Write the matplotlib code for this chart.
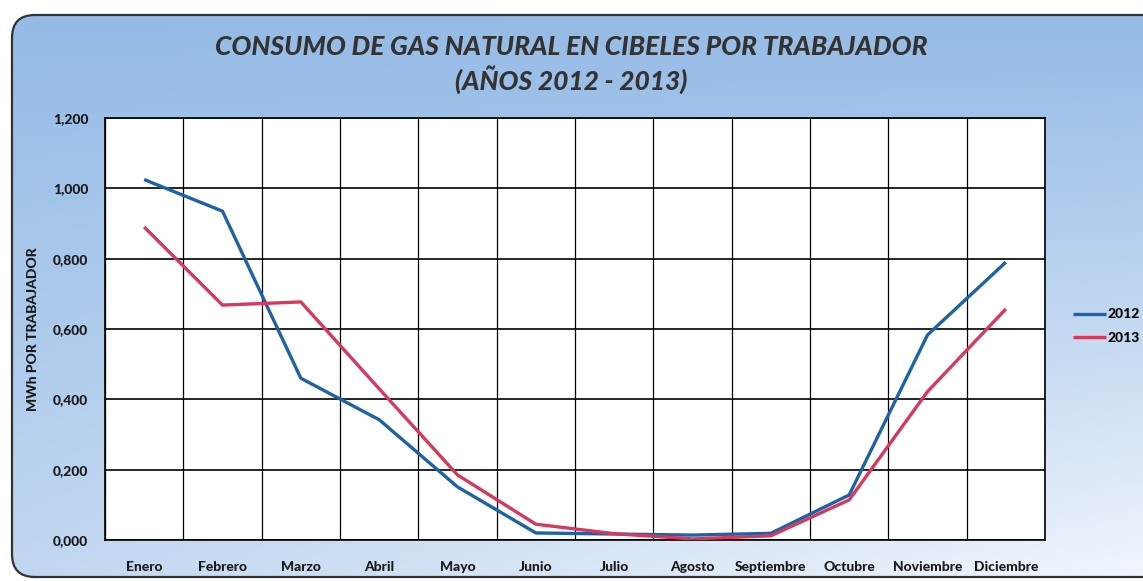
import numpy as np
import matplotlib.pyplot as plt
from matplotlib.patches import FancyBboxPatch
from matplotlib.ticker import FuncFormatter

plt.rcParams["font.family"] = ["Lato", "DejaVu Sans"]

# Data
months = ["Enero", "Febrero", "Marzo", "Abril", "Mayo", "Junio", "Julio",
          "Agosto", "Septiembre", "Octubre", "Noviembre", "Diciembre"]
consumo_2012 = [1.025, 0.935, 0.460, 0.342, 0.151, 0.020, 0.017,
                0.014, 0.019, 0.128, 0.583, 0.790]
consumo_2013 = [0.890, 0.668, 0.677, 0.430, 0.185, 0.045, 0.018,
                0.003, 0.012, 0.114, 0.422, 0.657]
y_ticks = [0.0, 0.2, 0.4, 0.6, 0.8, 1.0, 1.2]

BLUE = "#1d62a6"
RED = "#d8385c"
TXT = "#1a1a1a"

fig = plt.figure(figsize=(11.43, 5.81), dpi=100)

# Background panel with blue gradient and rounded border
bg = fig.add_axes([0, 0, 1, 1], zorder=-10)
bg.set_xlim(0, 1)
bg.set_ylim(0, 1)
bg.axis("off")
gx, gy = np.meshgrid(np.linspace(0, 1, 300), np.linspace(0, 1, 200))
t = np.clip(0.45 * (1 - gy) + 0.5 * gx * (1 - gy) ** 1.3, 0, 1)
top = np.array([0.58, 0.73, 0.90])
low = np.array([0.97, 0.98, 1.0])
img = top[None, None, :] * (1 - t[..., None]) + low[None, None, :] * t[..., None]
im = bg.imshow(img, extent=[0, 1, 0, 1], origin="lower", aspect="auto")
panel = FancyBboxPatch((12 / 1143, 4 / 581), 1.2, 562 / 581,
                       boxstyle="round,pad=0,rounding_size=0.02",
                       transform=bg.transAxes, facecolor="none",
                       edgecolor="#333333", linewidth=1.6,
                       mutation_aspect=1143 / 581)
bg.add_patch(panel)
im.set_clip_path(panel)

# Main plot
ax = fig.add_axes([105 / 1143, 1 - 540 / 581, 940 / 1143, 422 / 581])
ax.set_facecolor("white")
x = np.arange(len(months))
ax.plot(x, consumo_2012, color=BLUE, lw=2.4, label="2012",
        solid_capstyle="butt", zorder=3)
ax.plot(x, consumo_2013, color=RED, lw=2.4, label="2013",
        solid_capstyle="butt", zorder=3)

ax.set_xlim(-0.5, len(months) - 0.5)
ax.set_ylim(0, 1.2)
ax.set_yticks(y_ticks)
ax.yaxis.set_major_formatter(FuncFormatter(lambda v, p: f"{v:.3f}".replace(".", ",")))
ax.set_xticks(x)
ax.set_xticklabels(months)
ax.set_xticks(np.arange(-0.5, len(months), 1.0), minor=True)
ax.grid(True, which="major", axis="y", color="black", lw=1.2)
ax.grid(True, which="minor", axis="x", color="black", lw=0.9)
ax.tick_params(axis="both", which="both", length=0)
ax.tick_params(axis="x", pad=15)
ax.tick_params(axis="y", pad=12)
for lab in ax.get_xticklabels() + ax.get_yticklabels():
    lab.set_fontweight("black")
    lab.set_fontsize(10)
    lab.set_color(TXT)
for sp in ax.spines.values():
    sp.set_color("black")
    sp.set_linewidth(1.2)

ax.set_ylabel("MWh POR TRABAJADOR", fontsize=10, fontweight="black",
              color=TXT, labelpad=10)

fig.text(0.5, 1 - 47 / 581, "CONSUMO DE GAS NATURAL EN CIBELES POR TRABAJADOR",
         ha="center", va="center", fontsize=19, fontweight="black",
         style="italic", color="#333333")
fig.text(0.5, 1 - 80 / 581, "(AÑOS 2012 - 2013)",
         ha="center", va="center", fontsize=19, fontweight="black",
         style="italic", color="#333333")

fig.legend(loc="center left", bbox_to_anchor=(1060 / 1143, 1 - 326 / 581),
           frameon=False, handlelength=2.4, handletextpad=0.1,
           labelspacing=0.8, prop={"weight": "black", "size": 10})

fig.savefig("out.png", dpi=100)
